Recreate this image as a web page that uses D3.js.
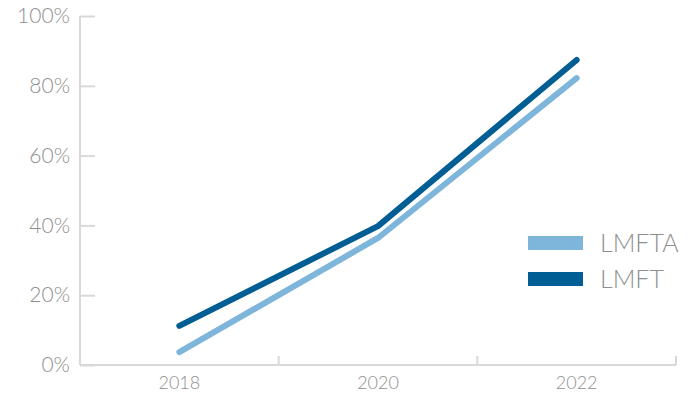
<!DOCTYPE html>
<html><head><meta charset="utf-8">
<script src="https://cdn.jsdelivr.net/npm/d3@7"></script>
<style>body{margin:0;background:#fff}svg{display:block}</style>
</head><body>
<svg id="c" width="698" height="396"></svg>
<script>
const years = ["2018","2020","2022"];
const lmfta = [3.7, 36.4, 82.2];
const lmft = [11.2, 39.8, 87.4];
const yTicks = [0,20,40,60,80,100];
const seriesNames = ["LMFTA","LMFT"];
const colors = ["#7db5db","#005e94"];

const svg = d3.select("#c");
const m = {l:80, r:22, t:16, b:31};
const W = 698, H = 396;
const x = d3.scaleBand().domain(years).range([m.l, W-m.r]);
const y = d3.scaleLinear().domain([0,100]).range([H-m.b, m.t]);
const font = "Lato, 'Open Sans', sans-serif";
const txt = "#8f8f8f";

// y axis
const ya = svg.append("g").attr("transform",`translate(${m.l},0)`)
  .call(d3.axisLeft(y).tickValues(yTicks).tickFormat(d=>d+"%").tickSize(-15).tickPadding(26));
ya.select(".domain").attr("stroke","#d9d9d9").attr("stroke-width",2).attr("d",`M0,${y(100)}V${y(0)}`);
ya.selectAll(".tick line").attr("stroke","#d9d9d9").attr("stroke-width",2);
ya.selectAll(".tick text").attr("fill",txt).style("font-family",font).style("font-weight",300).style("font-size","21px").attr("x",-10);

// x axis
const xa = svg.append("g").attr("transform",`translate(0,${H-m.b})`)
  .call(d3.axisBottom(x).tickSize(0).tickPadding(11));
xa.select(".domain").attr("stroke","#d9d9d9").attr("stroke-width",2).attr("d",`M${m.l},0H${W-m.r}`);
xa.selectAll(".tick text").attr("fill",txt).style("font-family",font).style("font-weight",300).style("font-size","18px");
const bounds = years.map(d=>x(d)+x.bandwidth());
xa.selectAll(".bt").data(bounds).enter().append("line")
  .attr("x1",d=>d).attr("x2",d=>d).attr("y1",0).attr("y2",-9)
  .attr("stroke","#d9d9d9").attr("stroke-width",2);

// lines
const line = d3.line().x((d,i)=>x(years[i])+x.bandwidth()/2).y(d=>y(d));
[lmfta, lmft].forEach((s,i)=>{
  svg.append("path").datum(s).attr("d",line).attr("fill","none")
    .attr("stroke",colors[i]).attr("stroke-width",6).attr("stroke-linecap","round").attr("stroke-linejoin","round");
});

// legend
const lg = svg.append("g");
seriesNames.forEach((n,i)=>{
  const yy = 243 + i*36;
  lg.append("rect").attr("x",528).attr("y",yy-7).attr("width",55).attr("height",14).attr("fill",colors[i]);
  lg.append("text").attr("x",600).attr("y",yy+9).text(n).attr("fill",txt)
    .style("font-family",font).style("font-weight",300).style("font-size","25px");
});
</script>
</body></html>
